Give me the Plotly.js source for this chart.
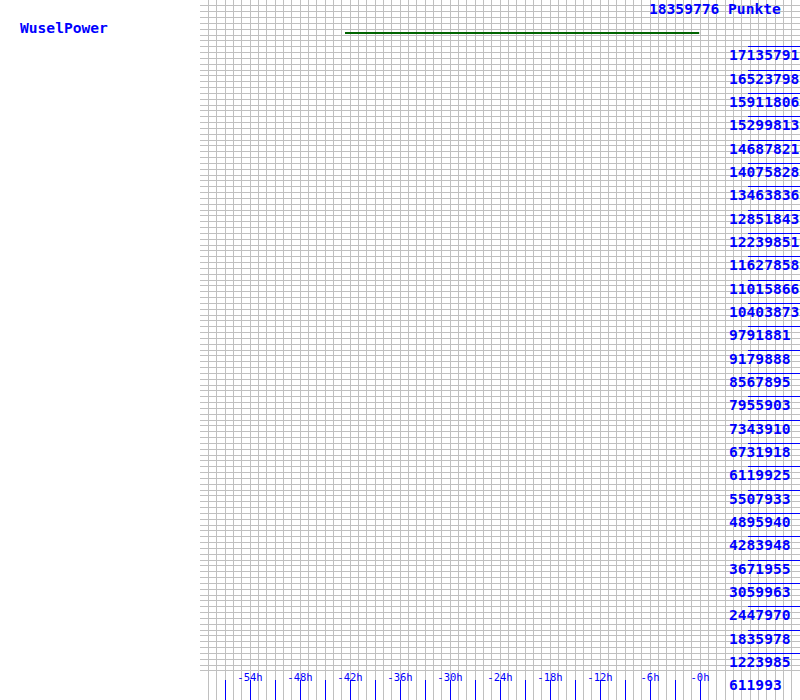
<!DOCTYPE html>
<html>
<head>
<meta charset="utf-8">
<script src="https://cdn.plot.ly/plotly-3.0.1.min.js"></script>
<style>html,body{margin:0;padding:0;background:#fff;}#chart{width:800px;height:700px;}</style>
</head>
<body>
<div id="chart"></div>
<script>
// ---- data ----
const chartTitle = "WuselPower";
const unitLabel = "Punkte";
const yMax = 18359776;
const yTickValues = [611993, 1223985, 1835978, 2447970, 3059963, 3671955, 4283948, 4895940,
  5507933, 6119925, 6731918, 7343910, 7955903, 8567895, 9179888, 9791881, 10403873,
  11015866, 11627858, 12239851, 12851843, 13463836, 14075828, 14687821, 15299813,
  15911806, 16523798, 17135791];
const xLabelValues = [-54, -48, -42, -36, -30, -24, -18, -12, -6, 0];
const xLabelText = ["-54h", "-48h", "-42h", "-36h", "-30h", "-24h", "-18h", "-12h", "-6h", "-0h"];
const xTickMarks = [-57, -54, -51, -48, -45, -42, -39, -36, -33, -30, -27, -24, -21, -18, -15, -12, -9, -6, -3, 0];
const seriesHours = [-42.6, -0.1];
const seriesPoints = [17494244, 17494244];

const blue = "#0000ff";
const gridColor = "#c0c0c0";
const mono = "DejaVu Sans Mono, monospace";
const labelFont = {family: mono, size: 14.6, color: blue, weight: "bold"};

const trace = {
  x: seriesHours, y: seriesPoints, type: "scatter", mode: "lines",
  line: {color: "#006400", width: 2}, hoverinfo: "skip"
};

const annotations = yTickValues.map(v => ({
  xref: "paper", yref: "y", x: (729 - 200) / 600, y: v,
  xanchor: "left", yanchor: "middle", yshift: -8, xshift: -2,
  text: String(v), showarrow: false, font: labelFont
}));
annotations.push({
  xref: "paper", yref: "y", x: (649 - 200) / 600, y: yMax,
  xanchor: "left", yanchor: "middle", yshift: -8, xshift: -2,
  text: yMax + " " + unitLabel, showarrow: false, font: labelFont
});

const layout = {
  width: 800, height: 700,
  margin: {l: 200, r: 0, t: 0, b: 0, pad: 0},
  paper_bgcolor: "#ffffff", plot_bgcolor: "#ffffff",
  showlegend: false,
  title: {
    text: chartTitle, xref: "container", yref: "container",
    x: 20 / 800, xanchor: "left", y: 1 - 28 / 700, yanchor: "middle",
    font: labelFont
  },
  xaxis: {
    range: [-60, 12], tickmode: "array", tickvals: xLabelValues, ticktext: xLabelText,
    ticks: "inside", ticklen: 16, tickcolor: blue, tickwidth: 1,
    ticklabelposition: "inside", tickfont: {family: mono, size: 10.5, color: blue},
    showgrid: true, gridcolor: gridColor, gridwidth: 1,
    minor: {tickmode: "linear", tick0: 0, dtick: 1, showgrid: true, gridcolor: gridColor, gridwidth: 1, ticks: ""},
    zeroline: false, showline: false, fixedrange: true
  },
  xaxis2: {
    overlaying: "x", matches: "x", range: [-60, 12], side: "bottom", anchor: "y",
    tickmode: "array", tickvals: xTickMarks, showticklabels: false,
    ticks: "inside", ticklen: 20, tickcolor: blue, tickwidth: 1,
    showgrid: false, zeroline: false, showline: false, fixedrange: true
  },
  yaxis: {
    range: [0, yMax], side: "right", tickmode: "array", tickvals: yTickValues,
    ticks: "inside", ticklen: 52, tickcolor: blue, tickwidth: 1,
    showticklabels: false,
    showgrid: true, gridcolor: gridColor, gridwidth: 1,
    minor: {tickmode: "linear", tick0: 0, dtick: yMax / 120, showgrid: true, gridcolor: gridColor, gridwidth: 1, ticks: ""},
    zeroline: false, showline: false, fixedrange: true
  },
  annotations: annotations
};

const tickTrace = {x: [null], y: [null], xaxis: "x2", yaxis: "y", type: "scatter", mode: "lines", hoverinfo: "skip"};

Plotly.newPlot("chart", [trace, tickTrace], layout, {staticPlot: true, displayModeBar: false});
</script>
</body>
</html>
